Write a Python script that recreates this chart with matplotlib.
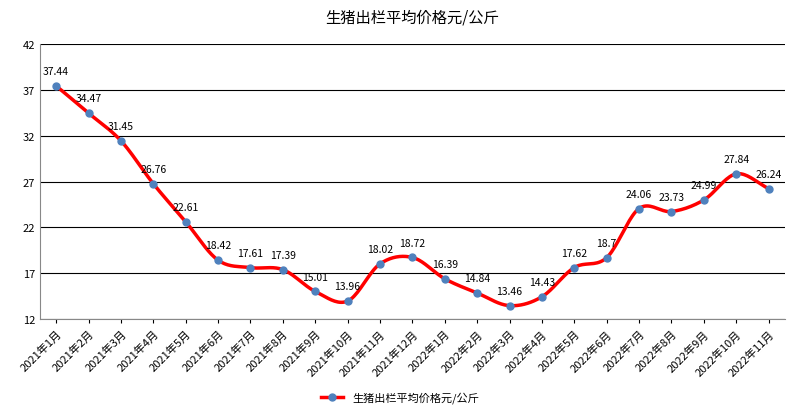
import numpy as np
import matplotlib.pyplot as plt
from matplotlib import font_manager

cjk = [f.name for f in font_manager.fontManager.ttflist if 'CJK' in f.name]
plt.rcParams['font.family'] = (['Noto Sans CJK SC'] if 'Noto Sans CJK SC' in cjk else cjk[:1]) + ['DejaVu Sans']

months = ['2021年%d月' % m for m in range(1, 13)] + ['2022年%d月' % m for m in range(1, 12)]
prices = [37.44, 34.47, 31.45, 26.76, 22.61, 18.42, 17.61, 17.39, 15.01, 13.96, 18.02, 18.72,
          16.39, 14.84, 13.46, 14.43, 17.62, 18.7, 24.06, 23.73, 24.99, 27.84, 26.24]
labels = ['37.44', '34.47', '31.45', '26.76', '22.61', '18.42', '17.61', '17.39', '15.01', '13.96',
          '18.02', '18.72', '16.39', '14.84', '13.46', '14.43', '17.62', '18.7', '24.06', '23.73',
          '24.99', '27.84', '26.24']


def smooth(x, y, n=20):
    # catmull-rom spline through the points, like excel's smoothed line
    x = np.asarray(x, float); y = np.asarray(y, float)
    px = np.concatenate([[2 * x[0] - x[1]], x, [2 * x[-1] - x[-2]]])
    py = np.concatenate([[2 * y[0] - y[1]], y, [2 * y[-1] - y[-2]]])
    xs, ys = [], []
    t = np.linspace(0, 1, n, endpoint=False)
    for i in range(1, len(px) - 2):
        for p, out in ((px, xs), (py, ys)):
            p0, p1, p2, p3 = p[i - 1], p[i], p[i + 1], p[i + 2]
            out.extend(0.5 * (2 * p1 + (-p0 + p2) * t + (2 * p0 - 5 * p1 + 4 * p2 - p3) * t ** 2
                              + (-p0 + 3 * p1 - 3 * p2 + p3) * t ** 3))
    xs.append(x[-1]); ys.append(y[-1])
    return np.array(xs), np.array(ys)


fig = plt.figure(figsize=(8, 4.14), dpi=100)
ax = fig.add_axes([0.05, 0.227, 0.931, 0.664])
x = np.arange(len(prices))
sx, sy = smooth(x, prices)
ax.plot(sx, sy, color='#FF0000', lw=2.5, zorder=2)
ax.plot(x, prices, 'o', color='#4F81BD', ms=5, zorder=3)
for xi, yi, lb in zip(x, prices, labels):
    ax.annotate(lb, (xi, yi), xytext=(0, 7), textcoords='offset points', ha='center',
                va='bottom', fontsize=7.5)

ax.set_ylim(12, 42)
ax.set_yticks(range(12, 43, 5))
ax.set_xlim(-0.5, len(prices) - 0.5)
ax.set_xticks(x)
ax.set_xticklabels(months, rotation=45, ha='right', rotation_mode='anchor', fontsize=8)
ax.tick_params(axis='y', labelsize=8, length=0)
ax.tick_params(axis='x', length=3)
ax.grid(axis='y', color='black', lw=0.8)
ax.set_axisbelow(True)
for s in ['top', 'right']:
    ax.spines[s].set_visible(False)
ax.spines['left'].set_color('#888888')
ax.spines['bottom'].set_color('#888888')

ax.set_title('生猪出栏平均价格元/公斤', fontsize=11, pad=16)
ax.plot([], [], color='#FF0000', lw=2.5, marker='o', mfc='#4F81BD', mec='#4F81BD', ms=5,
        label='生猪出栏平均价格元/公斤')
fig.legend(loc='lower center', bbox_to_anchor=(0.5, 0.0), frameon=False, fontsize=8)
fig.savefig('out.png', dpi=100)
